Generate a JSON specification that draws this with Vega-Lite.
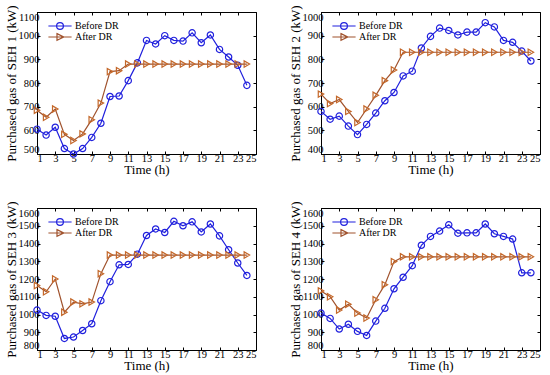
{
"$schema": "https://vega.github.io/schema/vega-lite/v6.json",
"autosize": {"type": "pad"},
"padding": {"left": 4, "top": 4, "right": 5, "bottom": 3},
"background": "white",
"datasets": {
"seh1": [
{"t":1,"Before DR":605,"After DR":685},{"t":2,"Before DR":580,"After DR":655},{"t":3,"Before DR":613,"After DR":690},{"t":4,"Before DR":523,"After DR":583},
{"t":5,"Before DR":500,"After DR":557},{"t":6,"Before DR":523,"After DR":585},{"t":7,"Before DR":570,"After DR":645},{"t":8,"Before DR":630,"After DR":715},
{"t":9,"Before DR":743,"After DR":848},{"t":10,"Before DR":745,"After DR":852},{"t":11,"Before DR":810,"After DR":880},{"t":12,"Before DR":885,"After DR":880},
{"t":13,"Before DR":980,"After DR":880},{"t":14,"Before DR":965,"After DR":880},{"t":15,"Before DR":1000,"After DR":880},{"t":16,"Before DR":980,"After DR":880},
{"t":17,"Before DR":977,"After DR":880},{"t":18,"Before DR":1012,"After DR":880},{"t":19,"Before DR":970,"After DR":880},{"t":20,"Before DR":1003,"After DR":880},
{"t":21,"Before DR":942,"After DR":880},{"t":22,"Before DR":910,"After DR":880},{"t":23,"Before DR":875,"After DR":880},{"t":24,"Before DR":790,"After DR":880}],
"seh2": [
{"t":1,"Before DR":580,"After DR":653},{"t":2,"Before DR":547,"After DR":613},{"t":3,"Before DR":560,"After DR":630},{"t":4,"Before DR":518,"After DR":580},
{"t":5,"Before DR":482,"After DR":533},{"t":6,"Before DR":525,"After DR":590},{"t":7,"Before DR":573,"After DR":648},{"t":8,"Before DR":625,"After DR":710},
{"t":9,"Before DR":660,"After DR":755},{"t":10,"Before DR":730,"After DR":830},{"t":11,"Before DR":750,"After DR":830},{"t":12,"Before DR":848,"After DR":830},
{"t":13,"Before DR":897,"After DR":830},{"t":14,"Before DR":932,"After DR":830},{"t":15,"Before DR":922,"After DR":830},{"t":16,"Before DR":903,"After DR":830},
{"t":17,"Before DR":915,"After DR":830},{"t":18,"Before DR":915,"After DR":830},{"t":19,"Before DR":955,"After DR":830},{"t":20,"Before DR":937,"After DR":830},
{"t":21,"Before DR":880,"After DR":830},{"t":22,"Before DR":872,"After DR":830},{"t":23,"Before DR":835,"After DR":830},{"t":24,"Before DR":793,"After DR":830}],
"seh3": [
{"t":1,"Before DR":1025,"After DR":1163},{"t":2,"Before DR":995,"After DR":1128},{"t":3,"Before DR":990,"After DR":1200},{"t":4,"Before DR":865,"After DR":1013},
{"t":5,"Before DR":873,"After DR":1070},{"t":6,"Before DR":910,"After DR":1060},{"t":7,"Before DR":948,"After DR":1070},{"t":8,"Before DR":1078,"After DR":1230},
{"t":9,"Before DR":1185,"After DR":1335},{"t":10,"Before DR":1280,"After DR":1335},{"t":11,"Before DR":1282,"After DR":1335},{"t":12,"Before DR":1340,"After DR":1335},
{"t":13,"Before DR":1445,"After DR":1335},{"t":14,"Before DR":1482,"After DR":1335},{"t":15,"Before DR":1462,"After DR":1335},{"t":16,"Before DR":1525,"After DR":1335},
{"t":17,"Before DR":1500,"After DR":1335},{"t":18,"Before DR":1522,"After DR":1335},{"t":19,"Before DR":1465,"After DR":1335},{"t":20,"Before DR":1510,"After DR":1335},
{"t":21,"Before DR":1443,"After DR":1335},{"t":22,"Before DR":1365,"After DR":1335},{"t":23,"Before DR":1290,"After DR":1335},{"t":24,"Before DR":1220,"After DR":1335}],
"seh4": [
{"t":1,"Before DR":1008,"After DR":1133},{"t":2,"Before DR":978,"After DR":1100},{"t":3,"Before DR":918,"After DR":1025},{"t":4,"Before DR":945,"After DR":1058},
{"t":5,"Before DR":905,"After DR":1008},{"t":6,"Before DR":882,"After DR":980},{"t":7,"Before DR":963,"After DR":1083},{"t":8,"Before DR":1035,"After DR":1168},
{"t":9,"Before DR":1145,"After DR":1298},{"t":10,"Before DR":1210,"After DR":1325},{"t":11,"Before DR":1275,"After DR":1325},{"t":12,"Before DR":1390,"After DR":1325},
{"t":13,"Before DR":1440,"After DR":1325},{"t":14,"Before DR":1470,"After DR":1325},{"t":15,"Before DR":1505,"After DR":1325},{"t":16,"Before DR":1458,"After DR":1325},
{"t":17,"Before DR":1460,"After DR":1325},{"t":18,"Before DR":1460,"After DR":1325},{"t":19,"Before DR":1510,"After DR":1325},{"t":20,"Before DR":1455,"After DR":1325},
{"t":21,"Before DR":1440,"After DR":1325},{"t":22,"Before DR":1425,"After DR":1325},{"t":23,"Before DR":1235,"After DR":1325},{"t":24,"Before DR":1235,"After DR":1325}]
},
"columns": 2,
"bounds": "flush",
"spacing": {"row": 54, "column": 65},
"resolve": {"scale": {"color": "independent", "shape": "independent"}},
"concat": [
{
"data": {"name": "seh1"}, "width": 219, "height": 142,
"resolve": {"axis": {"x": "independent", "y": "independent"}},
"layer": [
{"mark": {"type": "line", "color": "#2020dd", "strokeWidth": 1.2},
 "encoding": {"x": {"field": "t", "type": "quantitative", "scale": {"domain": [1, 25], "nice": false, "zero": false}, "axis": {"values": [1,3,5,7,9,11,13,15,17,19,21,23,25], "title": "Time (h)"}},
  "y": {"field": "Before DR", "type": "quantitative", "scale": {"domain": [500, 1100], "nice": false, "zero": false}, "axis": {"values": [500,600,700,800,900,1000,1100], "format": "d", "title": "Purchased gas of SEH 1 (kW)"}}}},
{"mark": {"type": "point", "shape": "circle", "filled": false, "color": "#2020dd", "size": 40, "strokeWidth": 1.2, "opacity": 1},
 "encoding": {"x": {"field": "t", "type": "quantitative", "axis": null}, "y": {"field": "Before DR", "type": "quantitative", "axis": null}}},
{"mark": {"type": "line", "color": "#a0522d", "strokeWidth": 1.2},
 "encoding": {"x": {"field": "t", "type": "quantitative", "axis": null}, "y": {"field": "After DR", "type": "quantitative", "axis": null}}},
{"mark": {"type": "point", "shape": "triangle-right", "filled": false, "color": "#c4682a", "size": 40, "strokeWidth": 1.2, "opacity": 1},
 "encoding": {"x": {"field": "t", "type": "quantitative", "axis": null}, "y": {"field": "After DR", "type": "quantitative", "axis": null}}},
{"transform": [{"fold": ["Before DR", "After DR"], "as": ["series", "val"]}],
 "mark": {"type": "point", "filled": false, "opacity": 0, "size": 64, "strokeWidth": 1.2},
 "encoding": {"x": {"field": "t", "type": "quantitative", "axis": {"orient": "top", "labels": false, "title": null, "domain": false, "values": [1,3,5,7,9,11,13,15,17,19,21,23,25]}},
  "y": {"field": "val", "type": "quantitative", "axis": {"orient": "right", "labels": false, "title": null, "domain": false, "values": [500,600,700,800,900,1000,1100]}},
  "shape": {"field": "series", "type": "nominal", "scale": {"domain": ["Before DR", "After DR"], "range": ["M-2.9,0H2.9M0.85,0A0.85,0.85,0,1,1,-0.85,0A0.85,0.85,0,1,1,0.85,0", "M-2.9,0H2.9M-0.75,-0.85L0.95,0L-0.75,0.85Z"]},
   "legend": {"title": null, "orient": "none", "legendX": 18, "legendY": 9, "padding": 0, "rowPadding": -1.5, "symbolSize": 64, "symbolStrokeWidth": 1.2, "labelOffset": 10, "encode": {"symbols": {"update": {"opacity": {"value": 1}}}}}},
  "color": {"field": "series", "type": "nominal", "scale": {"domain": ["Before DR", "After DR"], "range": ["#2020dd", "#a0522d"]},
   "legend": {"title": null, "orient": "none", "legendX": 18, "legendY": 9, "padding": 0, "rowPadding": -1.5, "symbolSize": 64, "symbolStrokeWidth": 1.2, "labelOffset": 10, "encode": {"symbols": {"update": {"opacity": {"value": 1}}}}}}}}
]
},
{
"data": {"name": "seh2"}, "width": 219, "height": 142,
"resolve": {"axis": {"x": "independent", "y": "independent"}},
"layer": [
{"mark": {"type": "line", "color": "#2020dd", "strokeWidth": 1.2},
 "encoding": {"x": {"field": "t", "type": "quantitative", "scale": {"domain": [1, 25], "nice": false, "zero": false}, "axis": {"values": [1,3,5,7,9,11,13,15,17,19,21,23,25], "title": "Time (h)"}},
  "y": {"field": "Before DR", "type": "quantitative", "scale": {"domain": [400, 1000], "nice": false, "zero": false}, "axis": {"values": [400,500,600,700,800,900,1000], "format": "d", "title": "Purchased gas of SEH 2 (kW)"}}}},
{"mark": {"type": "point", "shape": "circle", "filled": false, "color": "#2020dd", "size": 40, "strokeWidth": 1.2, "opacity": 1},
 "encoding": {"x": {"field": "t", "type": "quantitative", "axis": null}, "y": {"field": "Before DR", "type": "quantitative", "axis": null}}},
{"mark": {"type": "line", "color": "#a0522d", "strokeWidth": 1.2},
 "encoding": {"x": {"field": "t", "type": "quantitative", "axis": null}, "y": {"field": "After DR", "type": "quantitative", "axis": null}}},
{"mark": {"type": "point", "shape": "triangle-right", "filled": false, "color": "#c4682a", "size": 40, "strokeWidth": 1.2, "opacity": 1},
 "encoding": {"x": {"field": "t", "type": "quantitative", "axis": null}, "y": {"field": "After DR", "type": "quantitative", "axis": null}}},
{"transform": [{"fold": ["Before DR", "After DR"], "as": ["series", "val"]}],
 "mark": {"type": "point", "filled": false, "opacity": 0, "size": 64, "strokeWidth": 1.2},
 "encoding": {"x": {"field": "t", "type": "quantitative", "axis": {"orient": "top", "labels": false, "title": null, "domain": false, "values": [1,3,5,7,9,11,13,15,17,19,21,23,25]}},
  "y": {"field": "val", "type": "quantitative", "axis": {"orient": "right", "labels": false, "title": null, "domain": false, "values": [400,500,600,700,800,900,1000]}},
  "shape": {"field": "series", "type": "nominal", "scale": {"domain": ["Before DR", "After DR"], "range": ["M-2.9,0H2.9M0.85,0A0.85,0.85,0,1,1,-0.85,0A0.85,0.85,0,1,1,0.85,0", "M-2.9,0H2.9M-0.75,-0.85L0.95,0L-0.75,0.85Z"]},
   "legend": {"title": null, "orient": "none", "legendX": 18, "legendY": 9, "padding": 0, "rowPadding": -1.5, "symbolSize": 64, "symbolStrokeWidth": 1.2, "labelOffset": 10, "encode": {"symbols": {"update": {"opacity": {"value": 1}}}}}},
  "color": {"field": "series", "type": "nominal", "scale": {"domain": ["Before DR", "After DR"], "range": ["#2020dd", "#a0522d"]},
   "legend": {"title": null, "orient": "none", "legendX": 18, "legendY": 9, "padding": 0, "rowPadding": -1.5, "symbolSize": 64, "symbolStrokeWidth": 1.2, "labelOffset": 10, "encode": {"symbols": {"update": {"opacity": {"value": 1}}}}}}}}
]
},
{
"data": {"name": "seh3"}, "width": 219, "height": 142,
"resolve": {"axis": {"x": "independent", "y": "independent"}},
"layer": [
{"mark": {"type": "line", "color": "#2020dd", "strokeWidth": 1.2},
 "encoding": {"x": {"field": "t", "type": "quantitative", "scale": {"domain": [1, 25], "nice": false, "zero": false}, "axis": {"values": [1,3,5,7,9,11,13,15,17,19,21,23,25], "title": "Time (h)"}},
  "y": {"field": "Before DR", "type": "quantitative", "scale": {"domain": [800, 1600], "nice": false, "zero": false}, "axis": {"values": [800,900,1000,1100,1200,1300,1400,1500,1600], "format": "d", "title": "Purchased gas of SEH 3 (kW)"}}}},
{"mark": {"type": "point", "shape": "circle", "filled": false, "color": "#2020dd", "size": 40, "strokeWidth": 1.2, "opacity": 1},
 "encoding": {"x": {"field": "t", "type": "quantitative", "axis": null}, "y": {"field": "Before DR", "type": "quantitative", "axis": null}}},
{"mark": {"type": "line", "color": "#a0522d", "strokeWidth": 1.2},
 "encoding": {"x": {"field": "t", "type": "quantitative", "axis": null}, "y": {"field": "After DR", "type": "quantitative", "axis": null}}},
{"mark": {"type": "point", "shape": "triangle-right", "filled": false, "color": "#c4682a", "size": 40, "strokeWidth": 1.2, "opacity": 1},
 "encoding": {"x": {"field": "t", "type": "quantitative", "axis": null}, "y": {"field": "After DR", "type": "quantitative", "axis": null}}},
{"transform": [{"fold": ["Before DR", "After DR"], "as": ["series", "val"]}],
 "mark": {"type": "point", "filled": false, "opacity": 0, "size": 64, "strokeWidth": 1.2},
 "encoding": {"x": {"field": "t", "type": "quantitative", "axis": {"orient": "top", "labels": false, "title": null, "domain": false, "values": [1,3,5,7,9,11,13,15,17,19,21,23,25]}},
  "y": {"field": "val", "type": "quantitative", "axis": {"orient": "right", "labels": false, "title": null, "domain": false, "values": [800,900,1000,1100,1200,1300,1400,1500,1600]}},
  "shape": {"field": "series", "type": "nominal", "scale": {"domain": ["Before DR", "After DR"], "range": ["M-2.9,0H2.9M0.85,0A0.85,0.85,0,1,1,-0.85,0A0.85,0.85,0,1,1,0.85,0", "M-2.9,0H2.9M-0.75,-0.85L0.95,0L-0.75,0.85Z"]},
   "legend": {"title": null, "orient": "none", "legendX": 18, "legendY": 9, "padding": 0, "rowPadding": -1.5, "symbolSize": 64, "symbolStrokeWidth": 1.2, "labelOffset": 10, "encode": {"symbols": {"update": {"opacity": {"value": 1}}}}}},
  "color": {"field": "series", "type": "nominal", "scale": {"domain": ["Before DR", "After DR"], "range": ["#2020dd", "#a0522d"]},
   "legend": {"title": null, "orient": "none", "legendX": 18, "legendY": 9, "padding": 0, "rowPadding": -1.5, "symbolSize": 64, "symbolStrokeWidth": 1.2, "labelOffset": 10, "encode": {"symbols": {"update": {"opacity": {"value": 1}}}}}}}}
]
},
{
"data": {"name": "seh4"}, "width": 219, "height": 142,
"resolve": {"axis": {"x": "independent", "y": "independent"}},
"layer": [
{"mark": {"type": "line", "color": "#2020dd", "strokeWidth": 1.2},
 "encoding": {"x": {"field": "t", "type": "quantitative", "scale": {"domain": [1, 25], "nice": false, "zero": false}, "axis": {"values": [1,3,5,7,9,11,13,15,17,19,21,23,25], "title": "Time (h)"}},
  "y": {"field": "Before DR", "type": "quantitative", "scale": {"domain": [800, 1600], "nice": false, "zero": false}, "axis": {"values": [800,900,1000,1100,1200,1300,1400,1500,1600], "format": "d", "title": "Purchased gas of SEH 4 (kW)"}}}},
{"mark": {"type": "point", "shape": "circle", "filled": false, "color": "#2020dd", "size": 40, "strokeWidth": 1.2, "opacity": 1},
 "encoding": {"x": {"field": "t", "type": "quantitative", "axis": null}, "y": {"field": "Before DR", "type": "quantitative", "axis": null}}},
{"mark": {"type": "line", "color": "#a0522d", "strokeWidth": 1.2},
 "encoding": {"x": {"field": "t", "type": "quantitative", "axis": null}, "y": {"field": "After DR", "type": "quantitative", "axis": null}}},
{"mark": {"type": "point", "shape": "triangle-right", "filled": false, "color": "#c4682a", "size": 40, "strokeWidth": 1.2, "opacity": 1},
 "encoding": {"x": {"field": "t", "type": "quantitative", "axis": null}, "y": {"field": "After DR", "type": "quantitative", "axis": null}}},
{"transform": [{"fold": ["Before DR", "After DR"], "as": ["series", "val"]}],
 "mark": {"type": "point", "filled": false, "opacity": 0, "size": 64, "strokeWidth": 1.2},
 "encoding": {"x": {"field": "t", "type": "quantitative", "axis": {"orient": "top", "labels": false, "title": null, "domain": false, "values": [1,3,5,7,9,11,13,15,17,19,21,23,25]}},
  "y": {"field": "val", "type": "quantitative", "axis": {"orient": "right", "labels": false, "title": null, "domain": false, "values": [800,900,1000,1100,1200,1300,1400,1500,1600]}},
  "shape": {"field": "series", "type": "nominal", "scale": {"domain": ["Before DR", "After DR"], "range": ["M-2.9,0H2.9M0.85,0A0.85,0.85,0,1,1,-0.85,0A0.85,0.85,0,1,1,0.85,0", "M-2.9,0H2.9M-0.75,-0.85L0.95,0L-0.75,0.85Z"]},
   "legend": {"title": null, "orient": "none", "legendX": 18, "legendY": 9, "padding": 0, "rowPadding": -1.5, "symbolSize": 64, "symbolStrokeWidth": 1.2, "labelOffset": 10, "encode": {"symbols": {"update": {"opacity": {"value": 1}}}}}},
  "color": {"field": "series", "type": "nominal", "scale": {"domain": ["Before DR", "After DR"], "range": ["#2020dd", "#a0522d"]},
   "legend": {"title": null, "orient": "none", "legendX": 18, "legendY": 9, "padding": 0, "rowPadding": -1.5, "symbolSize": 64, "symbolStrokeWidth": 1.2, "labelOffset": 10, "encode": {"symbols": {"update": {"opacity": {"value": 1}}}}}}}}
]
}
],
"config": {
"font": "Liberation Serif",
"view": {"stroke": "black", "strokeWidth": 1},
"axis": {"grid": false, "labelFont": "Liberation Serif", "labelFontSize": 10.5, "labelColor": "black", "titleFont": "Liberation Serif", "titleFontSize": 13, "titleFontWeight": "normal", "titleColor": "black", "tickColor": "black", "domainColor": "black", "tickSize": -3, "labelPadding": 1, "titlePadding": 0},
"axisX": {"labelPadding": 2},
"axisY": {"labelFlush": true},
"legend": {"labelFont": "Liberation Serif", "labelFontSize": 10, "labelColor": "black"}
}
}
